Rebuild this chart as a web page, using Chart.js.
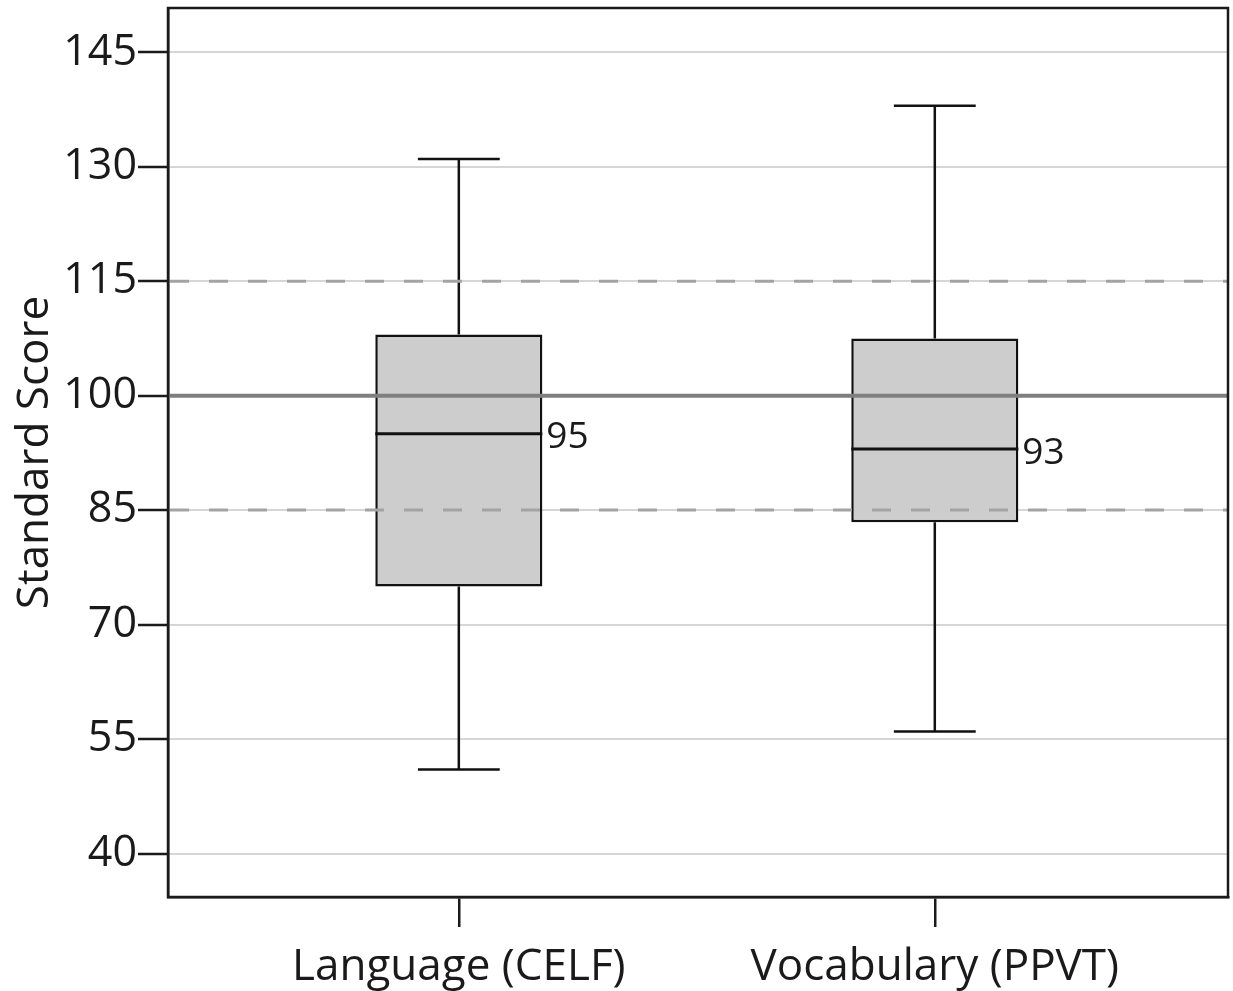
<!DOCTYPE html>
<html>
<head>
<meta charset="utf-8">
<script src="https://cdn.jsdelivr.net/npm/chart.js@4"></script>
<style>
  html, body { margin: 0; padding: 0; background: #fff; }
  #wrap { width: 1233px; height: 991px; }
</style>
</head>
<body>
<div id="wrap"><canvas id="chart" width="1233" height="991"></canvas></div>
<script>
// --- data ---
const categories = ['Language (CELF)', 'Vocabulary (PPVT)'];
const whiskerLow = [51, 56];
const q1 = [75, 83.4];
const median = [95, 93];
const q3 = [108, 107.5];
const whiskerHigh = [131, 138];
const yTicks = [40, 55, 70, 85, 100, 115, 130, 145];
const normMean = 100;
const normBand = [85, 115];

const fontFamily = '"Open Sans", "Noto Sans", sans-serif';

// whiskers, medians, labels and reference lines, placed via the chart scales
const boxExtras = {
  id: 'boxExtras',
  afterDatasetsDraw(chart) {
    const ctx = chart.ctx;
    const yScale = chart.scales.y;
    const area = chart.chartArea;
    const meta = chart.getDatasetMeta(0);
    ctx.save();

    meta.data.forEach((bar, i) => {
      const cx = bar.x;
      const half = bar.width / 2;
      const cap = bar.width * 0.245;
      const yHi = yScale.getPixelForValue(whiskerHigh[i]);
      const yLo = yScale.getPixelForValue(whiskerLow[i]);
      const yQ3 = yScale.getPixelForValue(q3[i]);
      const yQ1 = yScale.getPixelForValue(q1[i]);
      const yMed = yScale.getPixelForValue(median[i]);

      ctx.strokeStyle = '#111';
      ctx.lineWidth = 2.5;
      ctx.beginPath();
      ctx.moveTo(cx, yQ3); ctx.lineTo(cx, yHi);
      ctx.moveTo(cx - cap, yHi); ctx.lineTo(cx + cap, yHi);
      ctx.moveTo(cx, yQ1); ctx.lineTo(cx, yLo);
      ctx.moveTo(cx - cap, yLo); ctx.lineTo(cx + cap, yLo);
      ctx.stroke();

      ctx.lineWidth = 3;
      ctx.beginPath();
      ctx.moveTo(cx - half, yMed); ctx.lineTo(cx + half, yMed);
      ctx.stroke();

      ctx.fillStyle = '#1a1a1a';
      ctx.font = '37px ' + fontFamily;
      ctx.textAlign = 'left';
      ctx.textBaseline = 'middle';
      ctx.fillText(String(median[i]), cx + half + 4, yMed + 4);
    });

    // reference lines
    ctx.beginPath();
    ctx.rect(area.left, area.top, area.right - area.left, area.bottom - area.top);
    ctx.clip();

    ctx.strokeStyle = '#a3a3a3';
    ctx.lineWidth = 3;
    ctx.setLineDash([19, 20]);
    ctx.lineDashOffset = -2;
    normBand.forEach(v => {
      const yy = yScale.getPixelForValue(v);
      ctx.beginPath();
      ctx.moveTo(area.left, yy); ctx.lineTo(area.right, yy);
      ctx.stroke();
    });

    ctx.setLineDash([]);
    ctx.strokeStyle = '#7f7f7f';
    ctx.lineWidth = 4;
    const ym = yScale.getPixelForValue(normMean);
    ctx.beginPath();
    ctx.moveTo(area.left, ym); ctx.lineTo(area.right, ym);
    ctx.stroke();

    ctx.restore();
  },
  afterDraw(chart) {
    const ctx = chart.ctx;
    const a = chart.chartArea;
    ctx.save();
    ctx.strokeStyle = '#1a1a1a';
    ctx.lineWidth = 2.5;
    ctx.strokeRect(a.left, a.top, a.right - a.left, a.bottom - a.top);
    ctx.restore();
  }
};

const ctx = document.getElementById('chart').getContext('2d');
new Chart(ctx, {
  type: 'bar',
  data: {
    datasets: [{
      data: categories.map((c, i) => ({ x: i, y: [q1[i], q3[i]] })),
      backgroundColor: '#cdcdcd',
      borderColor: '#111',
      borderWidth: 2.5,
      borderSkipped: false,
      categoryPercentage: 1,
      barPercentage: 0.351
    }]
  },
  options: {
    responsive: false,
    animation: false,
    layout: { padding: { top: 8, right: 5, left: 0, bottom: 0 } },
    plugins: { legend: { display: false }, tooltip: { enabled: false } },
    scales: {
      x: {
        type: 'linear',
        min: -0.611,
        max: 1.616,
        offset: false,
        afterBuildTicks: s => { s.ticks = categories.map((c, i) => ({ value: i })); },
        afterFit: s => { s.height = 94; s.paddingLeft = 0; s.paddingRight = 0; },
        ticks: {
          callback: v => categories[v] ?? '',
          color: '#1a1a1a',
          font: { family: fontFamily, size: 44 },
          padding: 14,
          maxRotation: 0,
          autoSkip: false
        },
        grid: {
          offset: false,
          drawOnChartArea: false,
          drawTicks: true,
          tickLength: 30,
          tickColor: '#1a1a1a',
          tickWidth: 2.5,
          lineWidth: 2.5
        },
        border: { color: '#1a1a1a', width: 2.5 }
      },
      y: {
        min: 34.3,
        max: 150.8,
        afterBuildTicks: s => { s.ticks = yTicks.map(v => ({ value: v })); },
        afterFit: s => { s.width = 168; s.paddingTop = 0; s.paddingBottom = 0; },
        ticks: {
          color: '#1a1a1a',
          font: { family: fontFamily, size: 43 },
          padding: 1
        },
        grid: {
          color: '#d6d6d6',
          lineWidth: 2,
          tickLength: 30,
          tickColor: '#1a1a1a',
          tickWidth: 2.5
        },
        border: { color: '#1a1a1a', width: 2.5 },
        title: {
          display: true,
          text: 'Standard Score',
          color: '#1a1a1a',
          font: { family: fontFamily, size: 44 },
          padding: { top: 9, bottom: 0 }
        }
      }
    }
  },
  plugins: [boxExtras]
});
</script>
</body>
</html>
